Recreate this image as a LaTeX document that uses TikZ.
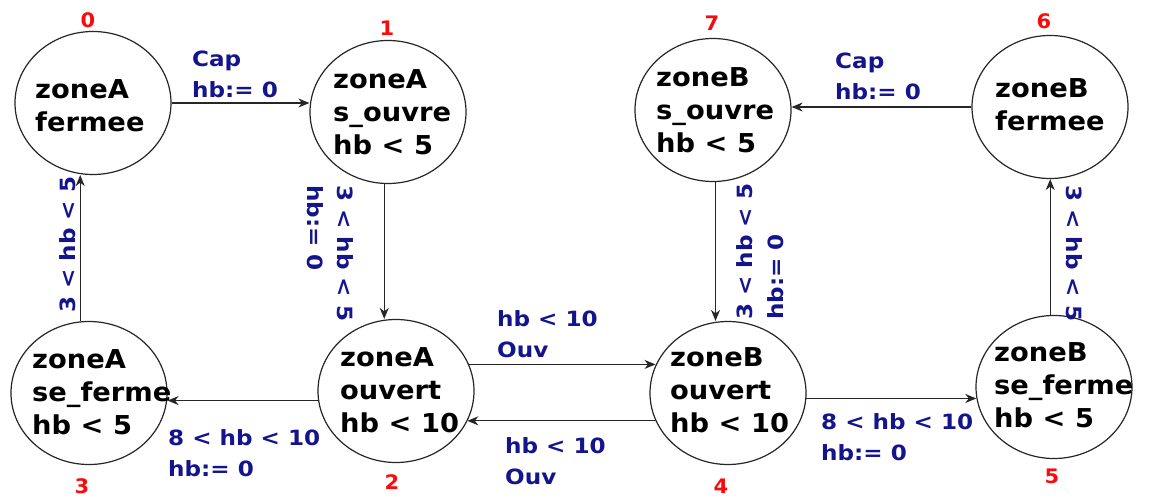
\documentclass[tikz,border=0pt]{standalone}
\usepackage{fontspec}
\usetikzlibrary{shapes.geometric,arrows.meta}
\newfontfamily\statefont[FakeStretch=1.05]{DejaVu Sans}
\newfontfamily\labfont[FakeStretch=1.1]{DejaVu Sans}
\definecolor{lblue}{RGB}{20,20,140}
\definecolor{lred}{RGB}{250,10,10}
\begin{document}
\begin{tikzpicture}[x=1pt,y=-1pt,
  state/.style={draw=black!85,ellipse,line width=1.2pt,minimum width=156pt,minimum height=143pt,inner sep=0pt},
  stxt/.style={anchor=base west,align=left,inner sep=0pt,font=\statefont\bfseries\fontsize{26}{33}\selectfont},
  lab/.style={anchor=base west,align=left,inner sep=0pt,text=lblue,font=\labfont\bfseries\fontsize{21}{30.5}\selectfont},
  num/.style={anchor=base,inner sep=0pt,text=lred,font=\statefont\bfseries\fontsize{20}{21}\selectfont},
  conn/.style={line width=1.3pt,draw=black!85,-{Stealth[length=11pt,width=9pt,inset=3.5pt]}}]
\fill[white] (0,0) rectangle (1149,498);
\useasboundingbox (0,0) rectangle (1149,498);
% states
\node[state] (n0) at (93,103) {};
\node[state] (n1) at (388,112) {};
\node[state] (n7) at (713,110) {};
\node[state] (n6) at (1050,107) {};
\node[state] (n3) at (89,393) {};
\node[state] (n2) at (396,391) {};
\node[state] (n4) at (728,393) {};
\node[state] (n5) at (1054,387) {};
% state texts (positions are last-line baselines)
\node[stxt] (t0) at (35,131) {zoneA\\fermee};
\node[stxt] (t1) at (333,154) {zoneA\\s\_ouvre\\hb < 5};
\node[stxt] (t7) at (656,152) {zoneB\\s\_ouvre\\hb < 5};
\node[stxt] (t6) at (995,130) {zoneB\\fermee};
\node[stxt] (t3) at (32,434) {zoneA\\se\_ferme\\hb < 5};
\node[stxt] (t2) at (340,432) {zoneA\\ouvert\\hb < 10};
\node[stxt] (t4) at (670,432) {zoneB\\ouvert\\hb < 10};
\node[stxt] (t5) at (994,427) {zoneB\\se\_ferme\\hb < 5};
% connectors
\draw[conn] (n0.east) -- (n0.east -| n1.west);
\draw[conn] (n1.267) -- (n1.267 |- n2.north);
\draw[conn] (n3.97) -- (n3.97 |- n0.south);
\draw[conn] (n2.187) -- (n2.187 -| n3.east);
\draw[conn] (n2.20) -- (n2.20 -| n4.159);
\draw[conn] (n4.201) -- (n4.201 -| n2.337);
\draw[conn] (n4.356) -- (n4.356 -| n5.188);
\draw[conn] (n6.west) -- (n6.west -| n7.east);
\draw[conn] (n7.272) -- (n7.272 |- n4.north);
\draw[conn] (n5.93) -- (n5.93 |- n6.south);
% edge labels (positions are last-line baselines)
\node[lab] (l01) at (192,97) {Cap\\hb:= 0};
\node[lab] (l67) at (835,99) {Cap\\hb:= 0};
\node[lab] (l23) at (168,476) {8 < hb < 10\\hb:= 0};
\node[lab] (l45) at (821,460) {8 < hb < 10\\hb:= 0};
\node[lab] (l24) at (497,357) {hb < 10\\Ouv};
\node[lab] (l42) at (505,484) {hb < 10\\Ouv};
\node[lab,rotate=90] (l30) at (75,313) {3 < hb < 5};
\node[lab,rotate=-90] (l12) at (307,185) {3 < hb < 5\\hb:= 0};
\node[lab,rotate=90] (l74) at (783,320) {3 < hb < 5\\hb:= 0};
\node[lab,rotate=-90] (l56) at (1066,185) {3 < hb < 5};
% state numbers
\node[num] (c0) at (88,27) {0};
\node[num] (c1) at (387,35) {1};
\node[num] (c7) at (712,30) {7};
\node[num] (c6) at (1044,28) {6};
\node[num] (c3) at (82,493) {3};
\node[num] (c2) at (392,489) {2};
\node[num] (c4) at (721,493) {4};
\node[num] (c5) at (1052,483) {5};
\end{tikzpicture}
\end{document}
